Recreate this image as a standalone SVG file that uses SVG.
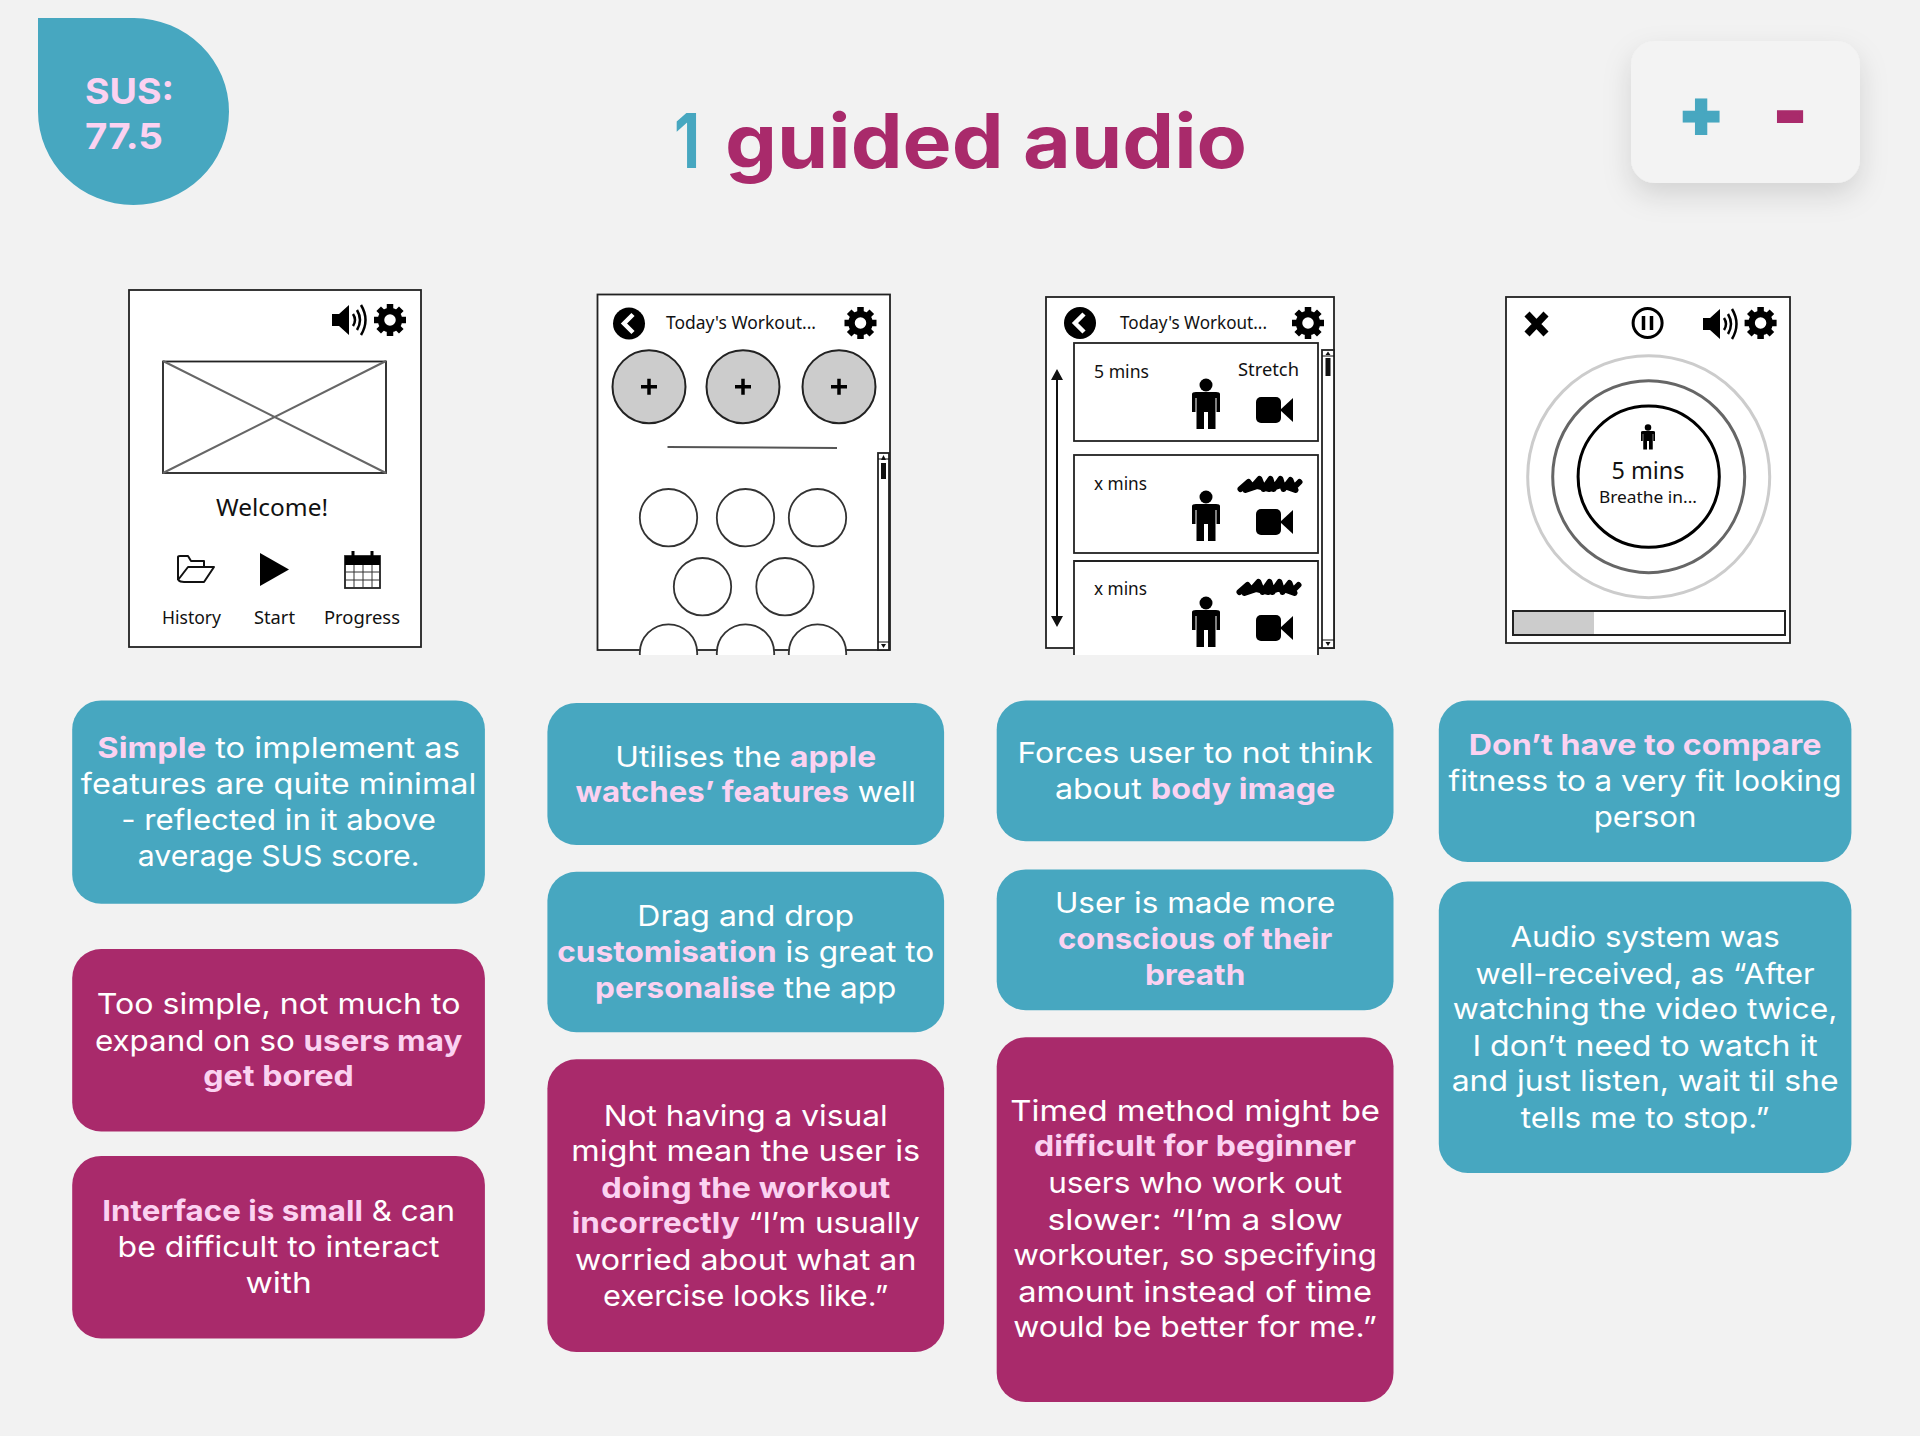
<svg xmlns="http://www.w3.org/2000/svg" width="1920" height="1436" viewBox="0 0 1920 1436">
<style>
.t{fill:#a92a6b}.b{fill:#47a7c0}
.c{font-family:Inter,"Liberation Sans",sans-serif;font-size:29px;fill:#fff;text-anchor:middle;transform:translateY(-1px)}
.h{font-weight:700;fill:#fbd2f1}
.w{font-family:"Noto Sans","Liberation Sans",sans-serif;fill:#111}
.f{fill:#fff;stroke:#222;stroke-width:1.8}
.n{fill:none;stroke:#111;stroke-width:2}
</style>
<defs>
<filter id="sh" x="-30%" y="-30%" width="160%" height="180%"><feDropShadow dx="0" dy="12" stdDeviation="14" flood-color="#000" flood-opacity=".13"/></filter>
<g id="gear"><g stroke="#000" stroke-width="6.5"><path d="M-16 0H16M0-16V16M-11.3-11.3L11.3 11.3M-11.3 11.3L11.3-11.3"/></g><circle r="9" fill="#fff" stroke="#000" stroke-width="6.5"/></g>
<g id="speaker"><path d="M0-6H7L17-15V15L7 6H0Z" fill="#000"/><path d="M21-6Q25 0 21 6M25-10Q31 0 25 10M29-15Q38 0 29 15" fill="none" stroke="#000" stroke-width="2.500"/></g>
<g id="back"><circle r="16" fill="#000"/><path d="M4-9L-5 0L4 9" fill="none" stroke="#fff" stroke-width="4.5"/></g>
<g id="person"><circle cy="-20" r="6.5" fill="#000"/><path d="M-14-11Q-14-13-10-13H10Q14-13 14-11V7H10.5V-7H9.5V24H2V7H-2V24H-9.5V-7H-10.5V7H-14Z" fill="#000"/></g>
<g id="cam"><rect x="0" y="0" width="25" height="26" rx="5" fill="#000"/><path d="M24 13L37 1V25Z" fill="#000"/></g>
<g id="scrib"><path d="M3 13L11 6L15 11L22 3L26 13L33 3L36 13L43 3L46 13L53 4L56 12L62 6M8 14L20 10L32 13L44 9L58 14" fill="none" stroke="#000" stroke-width="6" stroke-linecap="round" stroke-linejoin="round"/></g>
<g id="plus"><path d="M-8 0H8M0-8V8" stroke="#000" stroke-width="3.5"/></g>
<clipPath id="clip2"><rect x="590" y="290" width="310" height="365"/></clipPath>
<clipPath id="clip3"><rect x="1040" y="290" width="300" height="365"/></clipPath>
</defs>
<rect width="1920" height="1436" fill="#f2f2f2"/>

<g id="sus">
<path class="b" d="M38 18H134A95.500 93.500 0 1 1 38 111.500Z"/>
<text x="85" y="104" font-family="Inter,'Liberation Sans',sans-serif" font-weight="700" font-size="36" fill="#fbd2f1" textLength="89" lengthAdjust="spacingAndGlyphs">SUS:</text>
<text x="85" y="149" font-family="Inter,'Liberation Sans',sans-serif" font-weight="700" font-size="36" fill="#fbd2f1" textLength="78" lengthAdjust="spacingAndGlyphs">77.5</text>
</g>
<g id="title" font-family="Inter,'Liberation Sans',sans-serif" font-weight="700" font-size="75">
<text x="674" y="168" class="b" textLength="26" lengthAdjust="spacingAndGlyphs">1</text>
<text x="725" y="168" class="t" textLength="522" lengthAdjust="spacingAndGlyphs">guided audio</text>
</g>
<g id="legend">
<rect x="1631" y="41" width="229" height="142" rx="24" fill="#f3f3f3" filter="url(#sh)"/>
<text x="1701" y="136" class="b" stroke="#47a7c0" stroke-width="3" font-family="Inter,'Liberation Sans',sans-serif" font-weight="800" font-size="66" text-anchor="middle">+</text>
<text x="1790" y="136" class="t" stroke="#a92a6b" stroke-width="4" font-family="Inter,'Liberation Sans',sans-serif" font-weight="800" font-size="66" text-anchor="middle">-</text>
</g>

<g id="phone1">
<rect class="f" x="129" y="290" width="292" height="357"/>
<use href="#speaker" x="332" y="320"/><use href="#gear" x="390" y="320"/>
<rect class="f" x="163" y="361.500" width="223" height="111.500"/>
<path d="M163 361L386 473M386 361L163 473" stroke="#666" stroke-width="2"/>
<text class="w" x="216" y="516" font-size="24" textLength="112" lengthAdjust="spacingAndGlyphs">Welcome!</text>
<path d="M178 580V557Q178 556 180 556H188L191 561H204V567H188L178 580M178 580Q180 582 184 582H204L214 567H204" fill="#fff" stroke="#111" stroke-width="2" stroke-linejoin="round"/>
<path d="M260 553L289 569.500L260 586Z" fill="#000"/>
<g><rect class="f" x="345" y="556" width="35" height="32"/><rect x="345" y="556" width="35" height="9" fill="#000"/><path d="M345 572H380M345 580H380M354 565V588M363 565V588M372 565V588" stroke="#333" stroke-width="1"/><path d="M353 551V561M372 551V561" stroke="#000" stroke-width="3"/></g>
<text class="w" x="162" y="624" font-size="18" textLength="59" lengthAdjust="spacingAndGlyphs">History</text>
<text class="w" x="254" y="624" font-size="18" textLength="41" lengthAdjust="spacingAndGlyphs">Start</text>
<text class="w" x="324" y="624" font-size="18" textLength="76" lengthAdjust="spacingAndGlyphs">Progress</text>
</g>

<g id="phone2">
<rect class="f" x="597.500" y="294.500" width="292.500" height="355.500"/>
<use href="#back" x="629" y="323.500"/><use href="#gear" x="860.500" y="323"/>
<text class="w" x="666" y="329" font-size="18" textLength="150" lengthAdjust="spacingAndGlyphs">Today's Workout...</text>
<g fill="#ccc" stroke="#222" stroke-width="2"><circle cx="649" cy="386.700" r="36.500"/><circle cx="743" cy="386.700" r="36.500"/><circle cx="839" cy="386.700" r="36.500"/></g>
<use href="#plus" x="649" y="386.700"/><use href="#plus" x="743" y="386.700"/><use href="#plus" x="839" y="386.700"/>
<path d="M667.500 447L837 448" stroke="#555" stroke-width="2"/>
<g class="f"><rect x="878" y="453" width="11" height="197"/></g>
<rect x="881" y="463" width="5" height="16" fill="#111"/><path d="M881 460L883.500 455L886 460ZM881 644L883.500 648L886 644Z" fill="#111"/><path d="M878 642H889M878 459H889" stroke="#111"/>
<g clip-path="url(#clip2)" fill="#fff" stroke="#333" stroke-width="1.800">
<circle cx="668.500" cy="517.700" r="28.700"/><circle cx="745.500" cy="517.700" r="28.700"/><circle cx="817.500" cy="517.700" r="28.700"/>
<circle cx="702.500" cy="586.700" r="28.700"/><circle cx="785" cy="586.700" r="28.700"/>
<circle cx="668.500" cy="653" r="28.700"/><circle cx="745.500" cy="653" r="28.700"/><circle cx="817.500" cy="653" r="28.700"/>
</g>
</g>

<g id="phone3">
<rect class="f" x="1046" y="297" width="288" height="351"/>
<use href="#back" x="1080" y="323"/><use href="#gear" x="1308" y="323"/>
<text class="w" x="1120" y="329" font-size="18" textLength="147" lengthAdjust="spacingAndGlyphs">Today's Workout...</text>
<path d="M1057 375V621" stroke="#111" stroke-width="2"/><path d="M1051 380L1057 369L1063 380ZM1051 616L1057 627L1063 616Z" fill="#111"/>
<rect class="f" x="1322" y="350" width="12" height="298"/>
<rect x="1325.500" y="358" width="5" height="18" fill="#111"/><path d="M1322 356H1334M1322 640H1334" stroke="#111"/><path d="M1325.500 355L1328 351.500L1330.500 355ZM1325.500 642L1328 646L1330.500 642Z" fill="#111"/>
<rect class="f" x="1074" y="343" width="244" height="98"/>
<rect class="f" x="1074" y="455" width="244" height="98"/>
<path d="M1074 655V561H1318V655" fill="#fff" stroke="#222" stroke-width="1.800"/>
<text class="w" x="1094" y="378" font-size="18" textLength="55" lengthAdjust="spacingAndGlyphs">5 mins</text>
<text class="w" x="1238" y="376" font-size="18" textLength="61" lengthAdjust="spacingAndGlyphs">Stretch</text>
<text class="w" x="1094" y="490" font-size="18" textLength="53" lengthAdjust="spacingAndGlyphs">x mins</text>
<text class="w" x="1094" y="595" font-size="18" textLength="53" lengthAdjust="spacingAndGlyphs">x mins</text>
<use href="#person" x="1206" y="405"/><use href="#person" x="1206" y="517"/><use href="#person" x="1206" y="623"/>
<use href="#cam" x="1256" y="397"/><use href="#cam" x="1256" y="509"/><use href="#cam" x="1256" y="615"/>
<use href="#scrib" x="1237.500" y="476"/><use href="#scrib" x="1236.500" y="579"/>
</g>

<g id="phone4">
<rect class="f" x="1506" y="297" width="284" height="346"/>
<path d="M1527 314L1546 334M1546 314L1527 334" stroke="#000" stroke-width="7"/>
<circle cx="1647.600" cy="323" r="14.500" fill="#fff" stroke="#000" stroke-width="3"/><path d="M1643.500 316V330M1651.500 316V330" stroke="#000" stroke-width="3.500"/>
<use href="#speaker" x="1703" y="324"/><use href="#gear" x="1760.600" y="323"/>
<circle cx="1648.700" cy="476.700" r="121" fill="none" stroke="#ccc" stroke-width="3"/>
<circle cx="1648.700" cy="476.700" r="96" fill="none" stroke="#666" stroke-width="3"/>
<circle cx="1648.700" cy="476.700" r="70.600" fill="none" stroke="#000" stroke-width="3"/>
<g transform="translate(1648 437.500) scale(.5)"><use href="#person"/></g>
<text class="w" x="1611.500" y="479" font-size="24" textLength="73" lengthAdjust="spacingAndGlyphs">5 mins</text>
<text class="w" x="1599" y="503" font-size="17" textLength="98" lengthAdjust="spacingAndGlyphs">Breathe in...</text>
<rect x="1513" y="611" width="81" height="24" fill="#ccc"/>
<rect x="1513" y="611" width="272" height="24" fill="none" stroke="#222" stroke-width="2"/>
</g>

<g id="col1">
<rect class="b" x="72.200" y="700.400" width="412.700" height="203.300" rx="29"/>
<rect class="t" x="72.200" y="949" width="412.700" height="182.500" rx="29"/>
<rect class="t" x="72.200" y="1155.900" width="412.700" height="182.500" rx="29"/>
<text class="c" x="278.600" y="759.200" textLength="362.500" lengthAdjust="spacingAndGlyphs"><tspan class="h">Simple</tspan> to implement as</text>
<text class="c" x="278.600" y="794.700" textLength="395.500" lengthAdjust="spacingAndGlyphs">features are quite minimal</text>
<text class="c" x="278.600" y="831.400" textLength="314.700" lengthAdjust="spacingAndGlyphs">- reflected in it above</text>
<text class="c" x="278.600" y="866.900" textLength="281.600" lengthAdjust="spacingAndGlyphs">average SUS score.</text>
<text class="c" x="278.600" y="1015.100" textLength="363.700" lengthAdjust="spacingAndGlyphs">Too simple, not much to</text>
<text class="c" x="278.600" y="1051.800" textLength="367.400" lengthAdjust="spacingAndGlyphs">expand on so <tspan class="h">users may</tspan></text>
<text class="c h" x="278.600" y="1087.400" textLength="150.600" lengthAdjust="spacingAndGlyphs">get bored</text>
<text class="c" x="278.600" y="1222" textLength="352.700" lengthAdjust="spacingAndGlyphs"><tspan class="h">Interface is small</tspan> &amp; can</text>
<text class="c" x="278.600" y="1257.600" textLength="322" lengthAdjust="spacingAndGlyphs">be difficult to interact</text>
<text class="c" x="278.600" y="1294.300" textLength="66.100" lengthAdjust="spacingAndGlyphs">with</text>
</g>

<g id="col2">
<rect class="b" x="547.400" y="702.900" width="396.700" height="142" rx="29"/>
<rect class="b" x="547.400" y="871.800" width="396.700" height="160.500" rx="29"/>
<rect class="t" x="547.400" y="1059.200" width="396.700" height="292.700" rx="29"/>
<text class="c" x="745.700" y="767.800" textLength="260.800" lengthAdjust="spacingAndGlyphs">Utilises the <tspan class="h">apple</tspan></text>
<text class="c" x="745.700" y="803.300" textLength="340.400" lengthAdjust="spacingAndGlyphs"><tspan class="h">watches’ features</tspan> well</text>
<text class="c" x="745.700" y="927" textLength="216.700" lengthAdjust="spacingAndGlyphs">Drag and drop</text>
<text class="c" x="745.700" y="962.500" textLength="377.100" lengthAdjust="spacingAndGlyphs"><tspan class="h">customisation</tspan> is great to</text>
<text class="c" x="745.700" y="999.200" textLength="301.200" lengthAdjust="spacingAndGlyphs"><tspan class="h">personalise</tspan> the app</text>
<text class="c" x="745.700" y="1126.500" textLength="284.100" lengthAdjust="spacingAndGlyphs">Not having a visual</text>
<text class="c" x="745.700" y="1162" textLength="349" lengthAdjust="spacingAndGlyphs">might mean the user is</text>
<text class="c h" x="745.700" y="1198.800" textLength="289" lengthAdjust="spacingAndGlyphs">doing the workout</text>
<text class="c" x="745.700" y="1234.300" textLength="347.800" lengthAdjust="spacingAndGlyphs"><tspan class="h">incorrectly</tspan> “I’m usually</text>
<text class="c" x="745.700" y="1271" textLength="341.600" lengthAdjust="spacingAndGlyphs">worried about what an</text>
<text class="c" x="745.700" y="1306.500" textLength="285.300" lengthAdjust="spacingAndGlyphs">exercise looks like.”</text>
</g>

<g id="col3">
<rect class="b" x="996.700" y="700.400" width="396.800" height="140.800" rx="29"/>
<rect class="b" x="996.700" y="869.400" width="396.800" height="140.800" rx="29"/>
<rect class="t" x="996.700" y="1037.200" width="396.800" height="364.800" rx="29"/>
<text class="c" x="1195.100" y="764.100" textLength="355.100" lengthAdjust="spacingAndGlyphs">Forces user to not think</text>
<text class="c" x="1195.100" y="799.600" textLength="280.400" lengthAdjust="spacingAndGlyphs">about <tspan class="h">body image</tspan></text>
<text class="c" x="1195.100" y="913.500" textLength="280.400" lengthAdjust="spacingAndGlyphs">User is made more</text>
<text class="c h" x="1195.100" y="950.200" textLength="274.300" lengthAdjust="spacingAndGlyphs">conscious of their</text>
<text class="c h" x="1195.100" y="985.700" textLength="100.400" lengthAdjust="spacingAndGlyphs">breath</text>
<text class="c" x="1195.100" y="1121.600" textLength="369.800" lengthAdjust="spacingAndGlyphs">Timed method might be</text>
<text class="c h" x="1195.100" y="1157.200" textLength="322" lengthAdjust="spacingAndGlyphs">difficult for beginner</text>
<text class="c" x="1195.100" y="1193.900" textLength="293.900" lengthAdjust="spacingAndGlyphs">users who work out</text>
<text class="c" x="1195.100" y="1230.600" textLength="295.100" lengthAdjust="spacingAndGlyphs">slower: “I’m a slow</text>
<text class="c" x="1195.100" y="1266.100" textLength="363.700" lengthAdjust="spacingAndGlyphs">workouter, so specifying</text>
<text class="c" x="1195.100" y="1302.900" textLength="353.900" lengthAdjust="spacingAndGlyphs">amount instead of time</text>
<text class="c" x="1195.100" y="1338.400" textLength="363.700" lengthAdjust="spacingAndGlyphs">would be better for me.”</text>
</g>

<g id="col4">
<rect class="b" x="1438.800" y="700.400" width="412.600" height="161.600" rx="29"/>
<rect class="b" x="1438.800" y="881.600" width="412.600" height="291.400" rx="29"/>
<text class="c h" x="1645.100" y="755.500" textLength="352.700" lengthAdjust="spacingAndGlyphs">Don’t have to compare</text>
<text class="c" x="1645.100" y="792.300" textLength="393.100" lengthAdjust="spacingAndGlyphs">fitness to a very fit looking</text>
<text class="c" x="1645.100" y="827.800" textLength="102.900" lengthAdjust="spacingAndGlyphs">person</text>
<text class="c" x="1645.100" y="947.800" textLength="269.400" lengthAdjust="spacingAndGlyphs">Audio system was</text>
<text class="c" x="1645.100" y="984.500" textLength="339.200" lengthAdjust="spacingAndGlyphs">well-received, as “After</text>
<text class="c" x="1645.100" y="1020" textLength="384.500" lengthAdjust="spacingAndGlyphs">watching the video twice,</text>
<text class="c" x="1645.100" y="1056.700" textLength="345.300" lengthAdjust="spacingAndGlyphs">I don’t need to watch it</text>
<text class="c" x="1645.100" y="1092.300" textLength="386.900" lengthAdjust="spacingAndGlyphs">and just listen, wait til she</text>
<text class="c" x="1645.100" y="1129" textLength="248.600" lengthAdjust="spacingAndGlyphs">tells me to stop.”</text>
</g>
</svg>
